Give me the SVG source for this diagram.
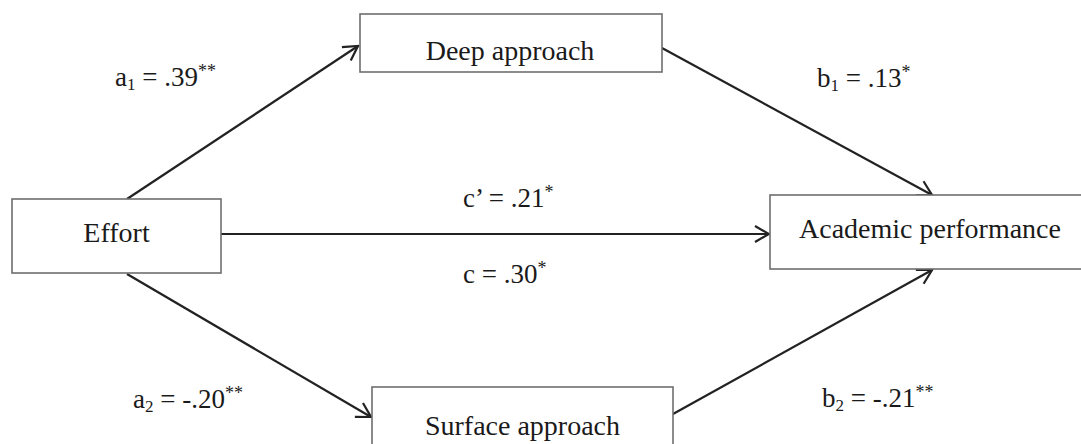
<svg xmlns="http://www.w3.org/2000/svg" width="1081" height="444" viewBox="0 0 1081 444">
<style>
.box{fill:#fff;stroke:#6e6e6e;stroke-width:1.6}
.lbl{font-family:"Liberation Serif","Times New Roman",serif;font-size:27px;fill:#1a1a1a}
.nd{font-family:"Liberation Serif","Times New Roman",serif;font-size:28px;fill:#1a1a1a;text-anchor:middle}
.sub{font-size:17px}
.sup{font-size:18px}
.edge{fill:none;stroke:#222;stroke-width:2.2;marker-end:url(#arr)}
</style>
<defs>
<marker id="arr" markerUnits="userSpaceOnUse" markerWidth="20" markerHeight="20" viewBox="0 0 20 20" refX="18" refY="10" orient="auto">
<path d="M4,2 L18,10 L4,18" fill="none" stroke="#222" stroke-width="2.2"/>
</marker>
</defs>
<g id="connectors">
<line class="edge" x1="127" y1="199" x2="358" y2="46"/>
<line class="edge" x1="127" y1="274" x2="371" y2="417"/>
<line class="edge" x1="221" y1="234" x2="769" y2="234"/>
<line class="edge" x1="662" y1="48" x2="932" y2="195"/>
<line class="edge" x1="673" y1="414" x2="932" y2="270"/>
</g>
<g id="node-effort">
<rect class="box" x="12" y="199" width="209" height="74"/>
<text class="nd" x="116.5" y="242">Effort</text>
</g>
<g id="node-deep">
<rect class="box" x="360" y="14" width="302" height="58"/>
<text class="nd" x="510" y="60">Deep approach</text>
</g>
<g id="node-surface">
<rect class="box" x="372" y="387" width="301" height="62"/>
<text class="nd" x="522.5" y="435">Surface approach</text>
</g>
<g id="node-academic">
<rect class="box" x="770" y="195" width="320" height="74"/>
<text class="nd" x="930" y="238">Academic performance</text>
</g>
<g id="labels">
<text class="lbl" x="115" y="86">a<tspan class="sub" dy="4">1</tspan><tspan dy="-4"> = .39</tspan><tspan class="sup" dy="-9">**</tspan></text>
<text class="lbl" x="817" y="87">b<tspan class="sub" dy="4">1</tspan><tspan dy="-4"> = .13</tspan><tspan class="sup" dy="-9">*</tspan></text>
<text class="lbl" x="463" y="207">c’ = .21<tspan class="sup" dy="-9">*</tspan></text>
<text class="lbl" x="463" y="283">c = .30<tspan class="sup" dy="-9">*</tspan></text>
<text class="lbl" x="133" y="408">a<tspan class="sub" dy="4">2</tspan><tspan dy="-4"> = -.20</tspan><tspan class="sup" dy="-9">**</tspan></text>
<text class="lbl" x="822" y="407">b<tspan class="sub" dy="4">2</tspan><tspan dy="-4"> = -.21</tspan><tspan class="sup" dy="-9">**</tspan></text>
</g>
</svg>
